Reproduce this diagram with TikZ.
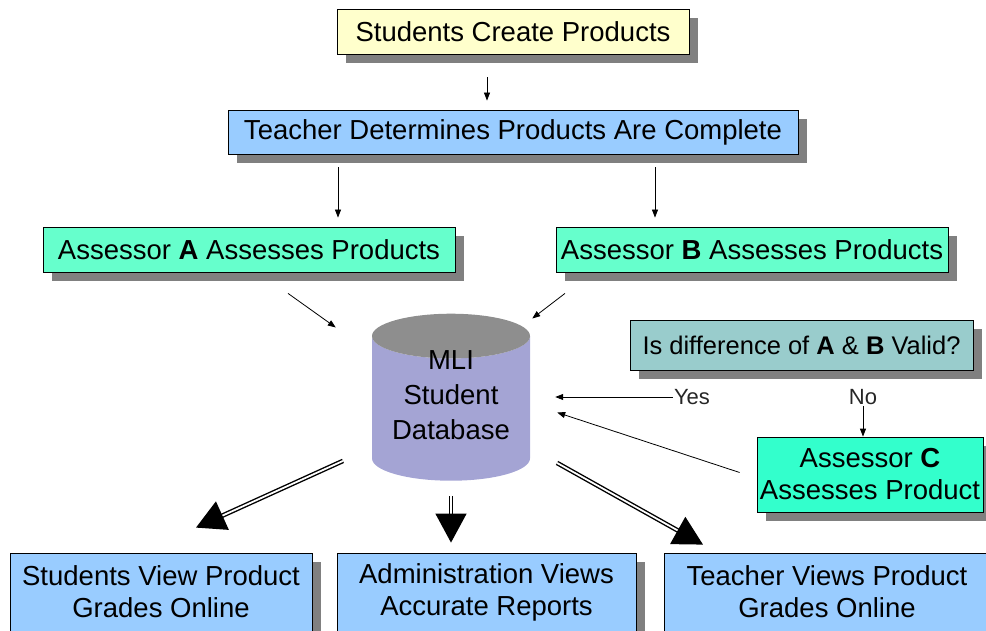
\documentclass[tikz,border=0pt]{standalone}
\usepackage{fontspec}
\setmainfont{Liberation Sans}
\usepackage{xcolor}
\usepackage{tikz}
\usetikzlibrary{positioning, shapes, shapes.geometric, shadows, calc, arrows, arrows.meta}
\definecolor{createcolor}{HTML}{FFFFCC}
\definecolor{viewcolor}{HTML}{99CCFF}
\definecolor{assesscolor}{HTML}{66FFCC}
\definecolor{thirdcolor}{HTML}{33FFCC}
\definecolor{checkcolor}{HTML}{99CCCC}
\definecolor{dbbody}{HTML}{A4A4D4}
\definecolor{dbtop}{HTML}{8E8E8E}
\newcommand{\boxfont}{\fontsize{27.5}{32}\selectfont}

\begin{document}
\begin{tikzpicture}[x=1pt, y=-1pt]
	\tikzstyle{stepbox}=[rectangle, draw=black, line width=0.8pt, inner sep=0pt, align=center, font=\boxfont, drop shadow={shadow xshift=9pt, shadow yshift=-9pt, fill=black!50, opacity=1}]
	\tikzstyle{flowarrow}=[-{Triangle[length=8pt,width=6pt]}, line width=0.8pt]
	\tikzstyle{bigarrow}=[-{Triangle[length=29pt,width=31pt]}, double, double distance=1.8pt, line width=1.4pt]
	\tikzstyle{answer}=[inner sep=1pt, text=black!85, font=\fontsize{22}{26}\selectfont]
	\useasboundingbox (0,0) rectangle (986,631);
	% top of the flow
	\node (create) at (513,31.5) [stepbox, fill=createcolor, minimum width=352pt, minimum height=45pt]{Students Create Products};
	\node (teacher) at (513,132) [stepbox, fill=viewcolor, minimum width=570pt, minimum height=44pt]{Teacher Determines Products Are Complete};
	\node (asA) at (249,249.5) [stepbox, fill=assesscolor, minimum width=412pt, minimum height=45pt]{Assessor \textbf{A} Assesses Products};
	\node (asB) at (752,249.5) [stepbox, fill=assesscolor, minimum width=392pt, minimum height=45pt]{Assessor \textbf{B} Assesses Products};
	% database
	\node (db) at (451,408.5) [cylinder, shape border rotate=90, aspect=0.38, minimum height=167pt, minimum width=158pt, inner sep=0pt, draw=none, cylinder uses custom fill, cylinder body fill=dbbody, cylinder end fill=dbtop, font=\fontsize{27.5}{35}\selectfont]{\raisebox{0pt}[\dimexpr\height-23pt][\depth]{\begin{tabular}{@{}c@{}}MLI\\Student\\Database\end{tabular}}};
	% check of the two grades
	\node (check) at (801.5,345) [stepbox, fill=checkcolor, minimum width=343pt, minimum height=50pt, font=\fontsize{25.5}{30}\selectfont]{Is difference of \textbf{A} \& \textbf{B} Valid?};
	\node (yes) at (692,397) [answer]{Yes};
	\node (no) at (863,397) [answer]{No};
	\node (asC) at (870,474.5) [stepbox, fill=thirdcolor, minimum width=226pt, minimum height=75pt]{Assessor \textbf{C}\\Assesses Product};
	% views
	\node (sView) at (161,592) [stepbox, fill=viewcolor, minimum width=302pt, minimum height=78pt]{Students View Product\\Grades Online};
	\node (adView) at (486.5,592) [stepbox, fill=viewcolor, minimum width=299pt, minimum height=78pt]{Administration Views\\Accurate Reports};
	\node (tView) at (827,592) [stepbox, fill=viewcolor, minimum width=326pt, minimum height=78pt]{Teacher Views Product\\Grades Online};

	\coordinate (c1) at (487,0);
	\coordinate (c2) at (338,0);
	\coordinate (c3) at (655,0);
	\draw[flowarrow, shorten <=23pt, shorten >=9pt] (create.south -| c1) -- (teacher.north -| c1);
	\draw[flowarrow, shorten <=13pt, shorten >=9pt] (teacher.south -| c2) -- (asA.north -| c2);
	\draw[flowarrow, shorten <=13pt, shorten >=9pt] (teacher.south -| c3) -- (asB.north -| c3);
	\draw[flowarrow] ([xshift=39pt,yshift=-21pt]asA.south) -- ([xshift=-36pt,yshift=81pt]db.west);
	\draw[flowarrow] ([xshift=-187pt,yshift=-21pt]asB.south) -- ([xshift=2pt,yshift=90pt]db.east);
	\draw[flowarrow, shorten >=25pt] (yes.west) -- (yes.west -| db.east);
	\draw[flowarrow] (no.south) -- (no.south |- asC.north);
	\draw[flowarrow] ([xshift=-17pt,yshift=2pt]asC.west) -- ([xshift=27pt,yshift=-4pt]db.east);

	\draw[bigarrow] ([xshift=-108pt,yshift=20pt]db.south) -- ([xshift=35pt,yshift=25pt]sView.north);
	\draw[bigarrow, shorten <=15pt, shorten >=10pt] (db.south) -- (db.south |- adView.north);
	\draw[bigarrow] ([xshift=106pt,yshift=18pt]db.south) -- ([xshift=-124pt,yshift=8pt]tView.north);
\end{tikzpicture}
\end{document}
